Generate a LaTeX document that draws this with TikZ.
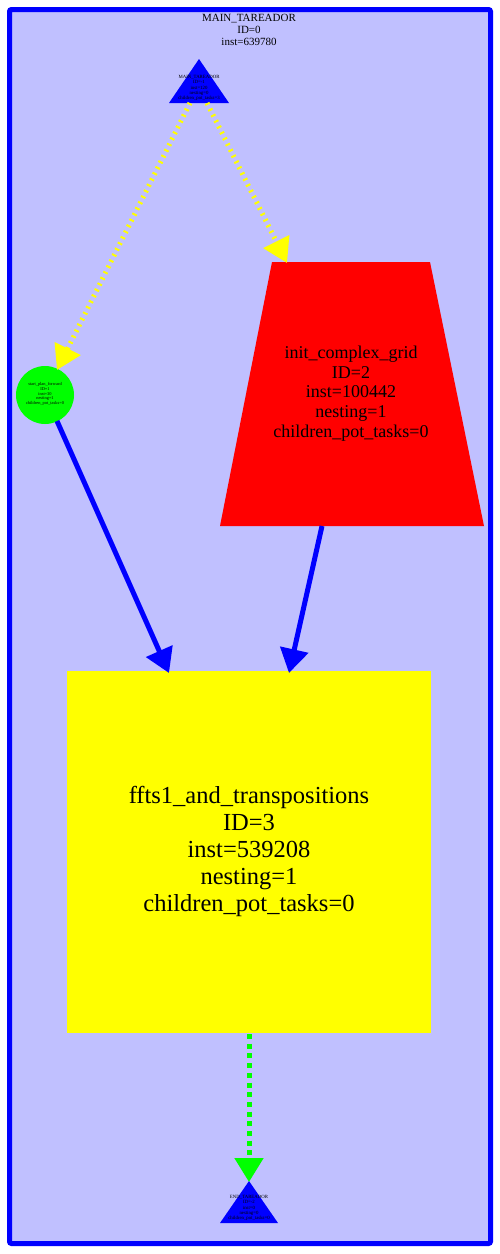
\documentclass[tikz,border=0pt]{standalone}
\usepackage{fontspec}
\setmainfont{Liberation Serif}
\usetikzlibrary{arrows.meta}
\definecolor{lav}{RGB}{192,192,255}
\definecolor{yel}{RGB}{255,255,0}
\definecolor{grn}{RGB}{0,255,0}
\definecolor{blu}{RGB}{0,0,255}
\definecolor{rd}{RGB}{255,0,0}
\tikzset{
  lbl/.style={align=center, inner sep=0pt, text=black},
  tip/.style={-{Triangle[length=24pt,width=28pt]}},
  yelarrow/.style={tip, draw=yel, line width=5pt, dash pattern=on 2pt off 4.5pt},
  grnarrow/.style={tip, draw=grn, line width=5pt, dash pattern=on 5pt off 4.7pt},
  bluarrow/.style={tip, draw=blu, line width=5pt},
}
\begin{document}
\begin{tikzpicture}[x=1pt,y=-1pt]
\useasboundingbox (0,0) rectangle (500,1254);
% cluster frame
\draw[blu, line width=5pt, fill=lav, rounded corners=2pt] (9.5,9.5) rectangle (490.5,1243.5);
\node[lbl, font=\fontsize{11}{12}\selectfont] (cl) at (249,30) {MAIN\_TAREADOR\\ID=0\\inst=639780};
% top triangle
\fill[blu] (199,59) -- (229,103) -- (169,103) -- cycle;
\node[lbl, font=\fontsize{4.8}{5.3}\selectfont] (top) at (199,88) {MAIN\_TAREADOR\\ID=-1\\inst=120\\nesting=0\\children\_pot\_tasks=3};
% circle
\node[circle, fill=grn, minimum size=58pt, inner sep=0pt] (circ) at (45,395) {};
\node[lbl, font=\fontsize{4.4}{4.6}\selectfont] (circtxt) at (45,394) {start\_plan\_forward\\ID=1\\inst=30\\nesting=1\\children\_pot\_tasks=0};
% trapezoid
\fill[rd] (272,262) -- (430,262) -- (484,526) -- (220,526) -- cycle;
\node[lbl, font=\fontsize{18}{19.7}\selectfont] (init) at (351,393.5) {init\_complex\_grid\\ID=2\\inst=100442\\nesting=1\\children\_pot\_tasks=0};
% square
\node[fill=yel, minimum width=364pt, minimum height=362pt, inner sep=0pt] (fft) at (249,852) {};
\node[lbl, font=\fontsize{24.5}{27}\selectfont] (ffttxt) at (249,851) {ffts1\_and\_transpositions\\ID=3\\inst=539208\\nesting=1\\children\_pot\_tasks=0};
% bottom triangle
\fill[blu] (249,1181) -- (278,1223) -- (220,1223) -- cycle;
\node[lbl, font=\fontsize{4.8}{5.3}\selectfont] (bot) at (249,1208) {END\_TAREADOR\\ID=-2\\inst=0\\nesting=0\\children\_pot\_tasks=0};
% connector end points
\coordinate (a1s) at (190,103); \coordinate (a1e) at (57,370);
\coordinate (a2s) at (207,103); \coordinate (a2e) at (287,263);
\coordinate (a3s) at (57,421);  \coordinate (a3e) at (169,673);
\coordinate (a4s) at (322,526); \coordinate (a4e) at (289,673);
\coordinate (a5s) at (249,1034); \coordinate (a5e) at (249,1182);
\draw[yelarrow] (a1s) -- (a1e);
\draw[yelarrow] (a2s) -- (a2e);
\draw[bluarrow] (a3s) -- (a3e);
\draw[bluarrow] (a4s) -- (a4e);
\draw[grnarrow] (a5s) -- (a5e);
\end{tikzpicture}
\end{document}
